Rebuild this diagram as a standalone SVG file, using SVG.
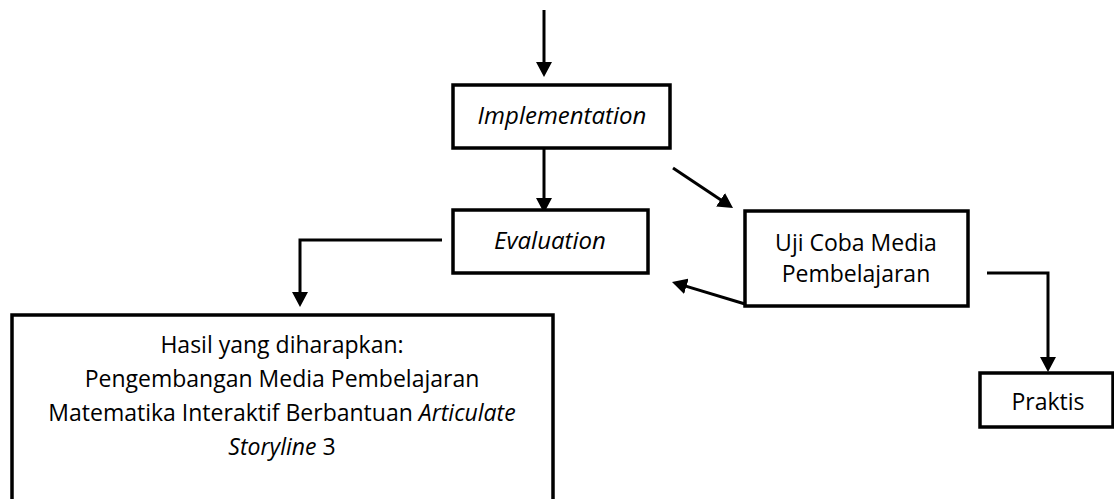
<svg xmlns="http://www.w3.org/2000/svg" width="1114" height="499" viewBox="0 0 1114 499">
  <style>
    .box { fill: #ffffff; stroke: #000000; stroke-width: 3.5; }
    .lbl { font-family: "Open Sans", "Liberation Sans", sans-serif; font-size: 23px; fill: #000000; text-anchor: middle; }
    .it { font-style: italic; }
    .big { font-size: 24px; }
    .con { fill: none; stroke: #000000; stroke-width: 3; stroke-linejoin: miter; marker-end: url(#arr); }
  </style>
  <defs>
    <marker id="arr" viewBox="0 0 15 16" markerWidth="15" markerHeight="16" markerUnits="userSpaceOnUse" refX="5" refY="8" orient="auto">
      <path d="M0,0 L15,8 L0,16 z" fill="#000000"/>
    </marker>
  </defs>
  <rect width="1114" height="499" fill="#ffffff"/>

  <g id="connectors">
    <line class="con" x1="544" y1="10" x2="544" y2="67"/>
    <line class="con" x1="544" y1="148" x2="544" y2="203"/>
    <line class="con" x1="673" y1="168" x2="724.7" y2="202.5"/>
    <line class="con" x1="745" y1="304" x2="681.6" y2="284.9"/>
    <path class="con" d="M442,240 H300 V297"/>
    <path class="con" d="M987,273 H1048 V362"/>
  </g>

  <g id="implementation">
    <rect class="box" x="453" y="85" width="217" height="63"/>
    <text class="lbl it big" x="562" y="124">Implementation</text>
  </g>

  <g id="evaluation">
    <rect class="box" x="453" y="210" width="195" height="63"/>
    <text class="lbl it big" x="550" y="249">Evaluation</text>
  </g>

  <g id="uji-coba">
    <rect class="box" x="745" y="211" width="223" height="95"/>
    <text class="lbl" x="856" y="251">Uji Coba Media</text>
    <text class="lbl" x="856" y="282">Pembelajaran</text>
  </g>

  <g id="praktis">
    <rect class="box" x="980" y="373" width="133" height="54"/>
    <text class="lbl" x="1048" y="410">Praktis</text>
  </g>

  <g id="hasil">
    <rect class="box" x="12" y="315" width="541" height="200"/>
    <text class="lbl" x="282" y="353">Hasil yang diharapkan:</text>
    <text class="lbl" x="282" y="387">Pengembangan Media Pembelajaran</text>
    <text class="lbl" x="282" y="421">Matematika Interaktif Berbantuan <tspan class="it">Articulate</tspan></text>
    <text class="lbl" x="282" y="455"><tspan class="it">Storyline</tspan> 3</text>
  </g>
</svg>
